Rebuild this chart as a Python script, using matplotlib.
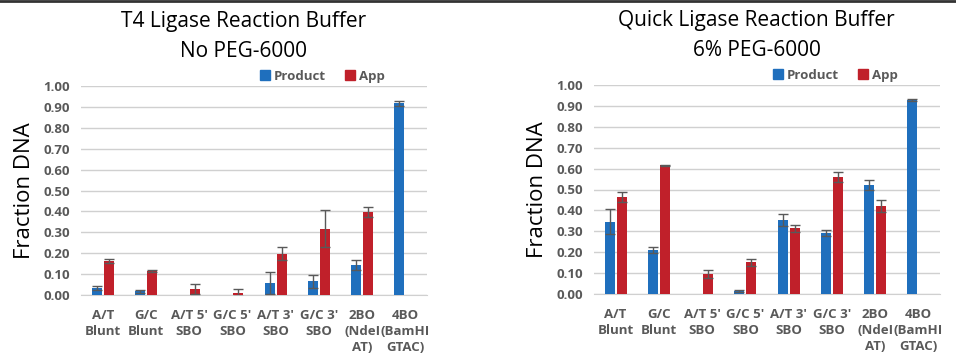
import numpy as np
import matplotlib.pyplot as plt
from matplotlib.lines import Line2D

plt.rcParams['font.family'] = ['Open Sans', 'DejaVu Sans']

categories = ["A/T\nBlunt", "G/C\nBlunt", "A/T 5'\nSBO", "G/C 5'\nSBO",
              "A/T 3'\nSBO", "G/C 3'\nSBO", "2BO\n(NdeI\nAT)", "4BO\n(BamHI\nGTAC)"]

# T4 ligase buffer, no PEG
t4_product = [0.032, 0.018, np.nan, np.nan, 0.059, 0.065, 0.144, 0.917]
t4_product_err = [0.010, 0.007, np.nan, np.nan, 0.053, 0.032, 0.025, 0.011]
t4_app = [0.163, 0.115, 0.029, 0.011, 0.198, 0.318, 0.398, np.nan]
t4_app_err = [0.010, 0.006, 0.024, 0.016, 0.030, 0.090, 0.025, np.nan]

# Quick ligase buffer, 6% PEG
ql_product = [0.345, 0.210, np.nan, 0.013, 0.355, 0.290, 0.520, 0.927]
ql_product_err = [0.060, 0.013, np.nan, 0.004, 0.030, 0.014, 0.024, 0.004]
ql_app = [0.465, 0.616, 0.096, 0.151, 0.315, 0.560, 0.422, np.nan]
ql_app_err = [0.025, 0.002, 0.019, 0.015, 0.016, 0.025, 0.030, np.nan]

titles = ["T4 Ligase Reaction Buffer\nNo PEG-6000",
          "Quick Ligase Reaction Buffer\n6% PEG-6000"]

blue = '#1f6fbd'
red = '#c0202a'
gray_txt = '#595959'

fig = plt.figure(figsize=(9.56, 3.55), dpi=100)
axes = [fig.add_axes([81 / 956, 60 / 355, 346 / 956, 209 / 355]),
        fig.add_axes([594 / 956, 61 / 355, 346 / 956, 209 / 355])]

panels = [(t4_product, t4_product_err, t4_app, t4_app_err),
          (ql_product, ql_product_err, ql_app, ql_app_err)]

x = np.arange(len(categories))
w = 0.23
for ax, (p, pe, a, ae), title in zip(axes, panels, titles):
    ax.bar(x - 0.14, p, w, color=blue, yerr=pe, capsize=3.5,
           error_kw=dict(ecolor='#595959', elinewidth=1, capthick=1), zorder=3)
    ax.bar(x + 0.14, a, w, color=red, yerr=ae, capsize=3.5,
           error_kw=dict(ecolor='#595959', elinewidth=1, capthick=1), zorder=3)
    ax.set_xlim(-0.5, len(categories) - 0.5)
    ax.set_ylim(0, 1.0)
    ax.set_yticks(np.arange(0, 1.01, 0.1))
    ax.set_yticklabels([f"{v:.2f}" for v in np.arange(0, 1.01, 0.1)],
                       fontweight='bold', fontsize=9.5)
    ax.set_xticks(x)
    ax.set_xticklabels(categories, linespacing=1.3, fontweight='bold', fontsize=9.5)
    ax.tick_params(axis='both', length=0, labelcolor=gray_txt)
    ax.tick_params(axis='y', pad=8)
    ax.tick_params(axis='x', pad=10)
    ax.grid(axis='y', color='#d0d0d0', linewidth=1, zorder=0)
    for s in ['top', 'right', 'left']:
        ax.spines[s].set_visible(False)
    ax.spines['bottom'].set_color('#d0d0d0')
    ax.set_ylabel("Fraction DNA", fontsize=16, labelpad=6)
    ax.set_title(title, fontsize=15, pad=21, linespacing=1.55, x=0.47)
    handles = [Line2D([], [], marker='s', linestyle='', color=blue, markersize=7),
               Line2D([], [], marker='s', linestyle='', color=red, markersize=7)]
    leg = ax.legend(handles, ["Product", "App"], loc='lower right',
                    bbox_to_anchor=(0.893, 0.99), ncol=2, frameon=False,
                    handletextpad=0.1, columnspacing=1.2, borderaxespad=0,
                    handlelength=1.2,
                    prop=dict(size=9.5, weight='bold'))
    for t in leg.get_texts():
        t.set_color(gray_txt)

fig.add_artist(Line2D([0, 1], [0.997, 0.997], color='#333333', linewidth=2,
                      transform=fig.transFigure))

fig.savefig('out.png', dpi=100)
